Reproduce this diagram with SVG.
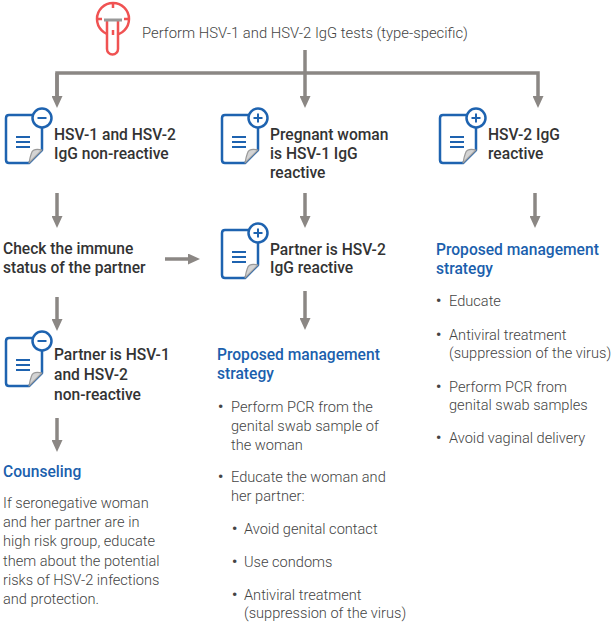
<svg xmlns="http://www.w3.org/2000/svg" xmlns:xlink="http://www.w3.org/1999/xlink" width="615" height="628" viewBox="0 0 615 628">
<style>
text{font-family:Roboto,"Liberation Sans",Arial,sans-serif}
.h{font-size:15.6px;font-weight:500;fill:#333}
.b{font-size:14.6px;font-weight:300;fill:#444}
.t{font-size:14.8px;font-weight:300;fill:#444}
.dot{font-size:14.6px;font-weight:700;fill:#444}
.blue{font-size:15.6px;font-weight:500;fill:#1b5fad}
.conn{stroke:#8b8784;stroke-width:3.5;fill:none;stroke-linejoin:miter}
.doc{fill:#fff;stroke:#1e63b0;stroke-width:2.5;stroke-linejoin:round}
.ln{stroke:#1e63b0;stroke-width:2}
.red{stroke:#f05252;stroke-width:2.5;fill:none}
</style>
<defs>
<marker id="ah" markerUnits="userSpaceOnUse" markerWidth="12" markerHeight="11" viewBox="0 0 12 11" refX="2" refY="5.5" orient="auto">
<path d="M0,0 L12,5.5 L0,11 Z" fill="#8b8784"/>
</marker>
<g id="docbase">
<path class="doc" d="M3,0 H33 Q36,0 36,3 V35 L23,48 H3 Q0,48 0,45 V3 Q0,0 3,0 Z"/>
<path d="M36,35 Q27,33 25.5,38 Q24,42 23,48 Z" fill="#d4d4d4" stroke="#999" stroke-width="1.2" stroke-linejoin="round"/>
<path class="ln" d="M10,22 H24 M10,27 H24 M10,32 H24"/>
<circle cx="36" cy="3" r="9.5" fill="#fff" stroke="#1e63b0" stroke-width="2.5"/>
</g>
<g id="docminus">
<use xlink:href="#docbase"/>
<path class="ln" d="M31.5,3 H40.5" stroke-width="2.2"/>
</g>
<g id="docplus">
<use xlink:href="#docbase"/>
<path class="ln" d="M31.5,3 H40.5 M36,-1.5 V7.5" stroke-width="2.2"/>
</g>
</defs>
<rect width="615" height="628" fill="#fff"/>

<g id="connectors">
<path class="conn" d="M305,50 V73"/>
<path class="conn" d="M57,98 V73 H538 V98" marker-end="url(#ah)"/>
<path class="conn" d="M57,73 V98" marker-end="url(#ah)"/>
<path class="conn" d="M305,73 V98" marker-end="url(#ah)"/>
<path class="conn" d="M57,193 V218" marker-end="url(#ah)"/>
<path class="conn" d="M305,193 V218" marker-end="url(#ah)"/>
<path class="conn" d="M535,193 V218" marker-end="url(#ah)"/>
<path class="conn" d="M165,259 H190" marker-end="url(#ah)"/>
<path class="conn" d="M57,297 V321" marker-end="url(#ah)"/>
<path class="conn" d="M305,291 V320" marker-end="url(#ah)"/>
<path class="conn" d="M57,418 V442" marker-end="url(#ah)"/>
</g>

<g id="start">
<circle class="red" cx="113" cy="19" r="16"/>
<path class="red" d="M113,3 V8 M97,19 H102 M124,19 H129"/>
<path d="M107,20 V49 A5.5,5.5 0 0 0 118,49 V20" fill="#fff" stroke="#f05252" stroke-width="2.5"/>
<path class="red" d="M113,30 V35"/>
<path d="M104,20 H122" stroke="#999" stroke-width="3"/>
<text class="t" x="142" y="38">Perform HSV-1 and HSV-2 IgG tests (type-specific)</text>
</g>

<g id="n-nonreactive">
<use xlink:href="#docminus" x="6" y="115"/>
<text class="h" x="54" y="140">HSV-1 and HSV-2</text>
<text class="h" x="54" y="159">IgG non-reactive</text>
</g>

<g id="n-hsv1reactive">
<use xlink:href="#docplus" x="222" y="115"/>
<text class="h" x="270" y="140">Pregnant woman</text>
<text class="h" x="270" y="159">is HSV-1 IgG</text>
<text class="h" x="270" y="178">reactive</text>
</g>

<g id="n-hsv2reactive">
<use xlink:href="#docplus" x="440" y="115"/>
<text class="h" x="488" y="140">HSV-2 IgG</text>
<text class="h" x="488" y="159">reactive</text>
</g>

<g id="n-check">
<text class="h" x="3" y="254">Check the immune</text>
<text class="h" x="3" y="273">status of the partner</text>
</g>

<g id="n-partner-reactive">
<use xlink:href="#docplus" x="222" y="230"/>
<text class="h" x="270" y="255">Partner is HSV-2</text>
<text class="h" x="270" y="273">IgG reactive</text>
</g>

<g id="n-strategy-right">
<text class="blue" x="436" y="255">Proposed management</text>
<text class="blue" x="436" y="274">strategy</text>
<text class="dot" x="436" y="306">•</text><text class="b" x="449" y="306">Educate</text>
<text class="dot" x="436" y="340">•</text><text class="b" x="449" y="340">Antiviral treatment</text>
<text class="b" x="449" y="358">(suppression of the virus)</text>
<text class="dot" x="436" y="392">•</text><text class="b" x="449" y="392">Perform PCR from</text>
<text class="b" x="449" y="410">genital swab samples</text>
<text class="dot" x="436" y="443">•</text><text class="b" x="449" y="443">Avoid vaginal delivery</text>
</g>

<g id="n-partner-nonreactive">
<use xlink:href="#docminus" x="6" y="338"/>
<text class="h" x="54" y="360">Partner is HSV-1</text>
<text class="h" x="54" y="380">and HSV-2</text>
<text class="h" x="54" y="400">non-reactive</text>
</g>

<g id="n-strategy-middle">
<text class="blue" x="217" y="360">Proposed management</text>
<text class="blue" x="217" y="379">strategy</text>
<text class="dot" x="218" y="412">•</text><text class="b" x="231" y="412">Perform PCR from the</text>
<text class="b" x="231" y="431">genital swab sample of</text>
<text class="b" x="231" y="450">the woman</text>
<text class="dot" x="218" y="482">•</text><text class="b" x="231" y="482">Educate the woman and</text>
<text class="b" x="231" y="501">her partner:</text>
<text class="dot" x="232" y="534">•</text><text class="b" x="244" y="534">Avoid genital contact</text>
<text class="dot" x="232" y="567">•</text><text class="b" x="244" y="567">Use condoms</text>
<text class="dot" x="232" y="600">•</text><text class="b" x="244" y="600">Antiviral treatment</text>
<text class="b" x="244" y="618">(suppression of the virus)</text>
</g>

<g id="n-counseling">
<text class="blue" x="3" y="477">Counseling</text>
<text class="b" x="3" y="508">If seronegative woman</text>
<text class="b" x="3" y="527">and her partner are in</text>
<text class="b" x="3" y="546">high risk group, educate</text>
<text class="b" x="3" y="566">them about the potential</text>
<text class="b" x="3" y="585">risks of HSV-2 infections</text>
<text class="b" x="3" y="604">and protection.</text>
</g>
</svg>
